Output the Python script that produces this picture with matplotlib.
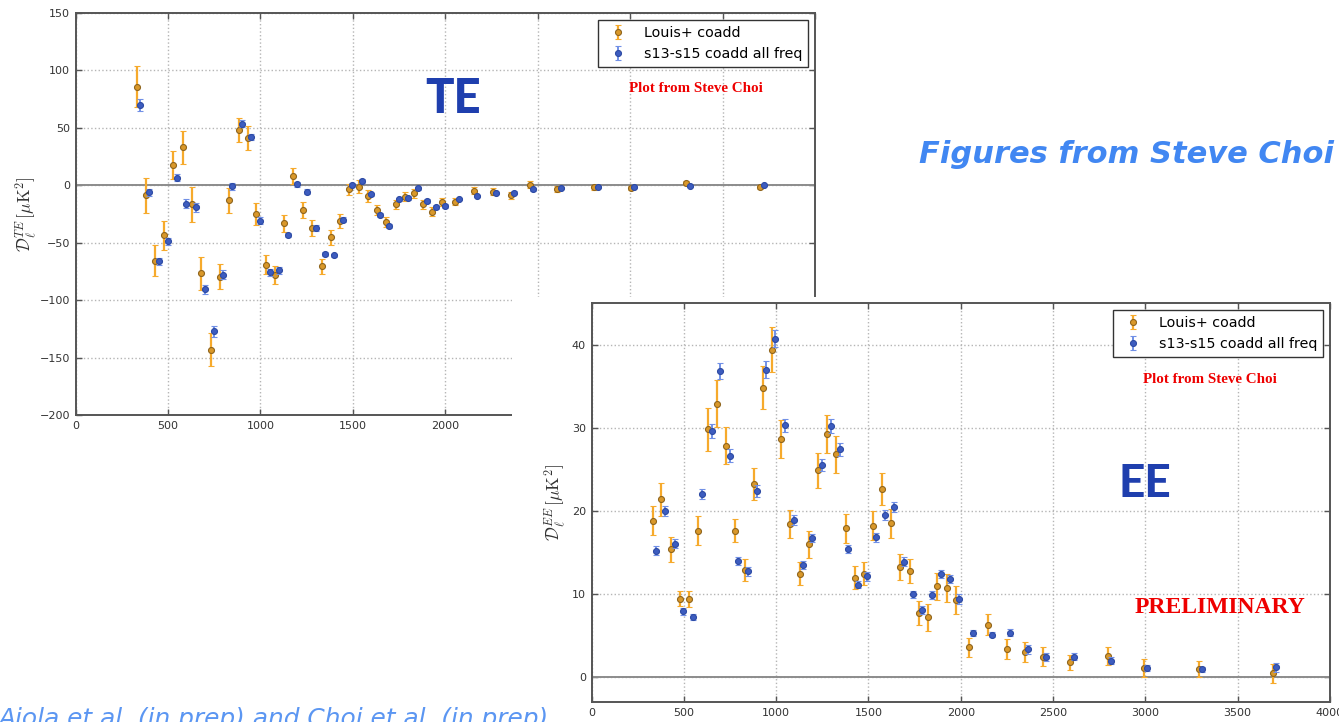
import matplotlib.pyplot as plt

plt.rcParams["mathtext.fontset"] = "cm"
plt.rcParams["font.family"] = ["DejaVu Sans"]

W, H = 1339, 722

# ---- TE bandpowers ----
te_ell_louis = [331, 379, 430, 480, 529, 579, 630, 680, 732, 781, 832, 882, 931,
                979, 1028, 1080, 1129, 1179, 1230, 1280, 1331, 1381, 1430, 1482,
                1532, 1581, 1630, 1680, 1731, 1781, 1830, 1878, 1931, 1981, 2053,
                2156, 2257, 2358, 2457, 2604, 2803, 3004, 3302, 3700]
te_louis = [86, -8.7, -65.5, -43.4, 17.5, 32.9, -16.6, -76.8, -143, -79.7, -13,
            48, 41, -25, -69, -78, -33, 7.8, -21.5, -37.5, -70.7, -45.4, -31,
            -3.5, -1.2, -9.3, -21.8, -31.7, -16.6, -9.9, -7, -16.6, -23, -14.8,
            -14.3, -4.7, -5.5, -8.7, 0.3, -3.5, -1.7, -2.3, 2, -1.5]
te_louis_err = [18, 15, 13.5, 12.7, 12, 14, 15, 14.5, 14.3, 11, 11, 10.5, 10.5,
                10, 8.4, 8, 7.5, 7, 7, 7, 6.4, 6.5, 6, 5, 5.5, 5, 4.5, 4.5, 4, 4,
                4, 4, 4, 3.5, 3, 3, 3, 3, 3, 2.5, 2, 2, 2, 2]

te_ell_s13 = [349, 399, 450, 500, 549, 599, 651, 700, 751, 796, 848, 898, 949,
              999, 1050, 1100, 1149, 1199, 1250, 1300, 1349, 1396, 1448, 1498,
              1549, 1599, 1648, 1698, 1749, 1801, 1853, 1900, 1950, 1997, 2073,
              2174, 2277, 2372, 2473, 2624, 2826, 3020, 3323, 3722]
te_s13 = [70, -6, -66, -48.6, 6.4, -16, -19, -90.7, -127, -78, -1, 53.5, 42,
          -31, -75.6, -74, -43.4, 0.9, -5.5, -37.5, -60, -61, -30, 0.3, 3.8,
          -7.9, -26, -35.5, -12.2, -11, -2.6, -13.7, -19, -18, -11.9, -9.3, -6.7,
          -6.4, -3.5, -2.6, -1.7, -1.5, -0.6, 0]
te_s13_err = [5, 3, 3, 3, 3, 4, 4, 4, 4.9, 4, 3, 3, 3, 3, 3, 3, 2, 2, 2, 2.5,
              1.5, 1.5, 2, 1.5, 1.5, 1.5, 1.5, 1.5, 1.5, 1.5, 1.5, 1.5, 1.5, 1.5,
              1.2, 1.2, 1.2, 1.2, 1.2, 1, 1, 1, 1, 1]

# ---- EE bandpowers ----
ee_ell_louis = [334, 379, 428, 478, 529, 579, 630, 680, 729, 779, 830, 880, 931,
                977, 1026, 1077, 1127, 1176, 1226, 1277, 1327, 1376, 1426, 1477,
                1527, 1572, 1623, 1673, 1723, 1772, 1822, 1873, 1923, 1974, 2046,
                2147, 2248, 2347, 2448, 2594, 2796, 2994, 3291, 3689]
ee_louis = [18.8, 21.4, 15.4, 9.45, 9.4, 17.6, 29.8, 32.9, 27.85, 17.6, 12.9,
            23.25, 34.8, 39.4, 28.6, 18.4, 12.45, 15.97, 24.85, 29.2, 26.8, 17.9,
            11.96, 12.45, 18.2, 22.6, 18.5, 13.25, 12.75, 7.7, 7.2, 10.9, 10.7,
            9.24, 3.56, 6.28, 3.36, 3.0, 2.44, 1.76, 2.52, 1.08, 1.0, 0.44]
ee_louis_err = [1.76, 2.0, 1.5, 0.96, 1.0, 1.76, 2.56, 2.8, 2.2, 1.4, 1.35, 1.9,
                2.6, 2.7, 2.3, 1.7, 1.4, 1.66, 2.1, 2.3, 2.2, 1.74, 1.4, 1.4, 1.74,
                1.96, 1.76, 1.6, 1.46, 1.42, 1.6, 1.6, 1.68, 1.7, 1.1, 1.26, 1.2,
                1.2, 1.16, 0.9, 1.04, 1.08, 0.94, 1.16]

ee_ell_s13 = [349, 399, 450, 498, 549, 599, 650, 698, 749, 796, 846, 896, 947,
              995, 1046, 1096, 1145, 1196, 1246, 1295, 1345, 1392, 1442, 1493,
              1542, 1592, 1641, 1691, 1741, 1790, 1842, 1893, 1941, 1988, 2068,
              2167, 2268, 2363, 2464, 2614, 2814, 3010, 3309, 3707]
ee_s13 = [15.2, 20.0, 16.05, 7.9, 7.25, 22.05, 29.6, 36.8, 26.65, 13.96, 12.7,
          22.4, 37.0, 40.7, 30.3, 18.9, 13.45, 16.7, 25.5, 30.2, 27.4, 15.4,
          11.1, 12.1, 16.8, 19.5, 20.5, 13.9, 9.96, 8.04, 9.9, 12.36, 11.76, 9.4,
          5.32, 5.12, 5.36, 3.32, 2.44, 2.44, 1.96, 1.08, 0.92, 1.16]
ee_s13_err = [0.56, 0.6, 0.55, 0.4, 0.35, 0.6, 0.9, 1.0, 0.8, 0.5, 0.5, 0.7, 1.0,
              1.0, 0.8, 0.6, 0.5, 0.5, 0.7, 0.8, 0.8, 0.5, 0.4, 0.5, 0.5, 0.6,
              0.6, 0.5, 0.45, 0.5, 0.45, 0.5, 0.5, 0.6, 0.4, 0.35, 0.4, 0.5, 0.5,
              0.4, 0.4, 0.4, 0.35, 0.5]

x_ticks = [0, 500, 1000, 1500, 2000, 2500, 3000, 3500, 4000]
te_yticks = [-200, -150, -100, -50, 0, 50, 100, 150]
ee_yticks = [0, 10, 20, 30, 40]

ORANGE_FACE, ORANGE_EDGE, ORANGE_BAR = "#d9982a", "#8f641c", "#f6aa2c"
BLUE_FACE, BLUE_EDGE, BLUE_BAR = "#3d5cbf", "#2d4aa3", "#7190e6"
TITLE_BLUE = "#1f3fae"


def px_axes(fig, x0, y0, x1, y1, **kw):
    """Add axes given a box in pixel coordinates (origin top-left)."""
    return fig.add_axes([x0 / W, 1 - y1 / H, (x1 - x0) / W, (y1 - y0) / H], **kw)


def ftext(fig, x, y, s, **kw):
    return fig.text(x / W, 1 - y / H, s, **kw)


def draw_spectrum(ax, louis, s13, ylim, yticks, ylabel, labelpad):
    ax.set_xlim(0, 4000)
    ax.set_ylim(*ylim)
    ax.set_xticks(x_ticks)
    ax.set_yticks(yticks)
    ax.grid(True, color="#b5b5b5", linestyle=":", linewidth=1.0)
    ax.set_axisbelow(True)
    ax.axhline(0, color="#8c8c8c", linewidth=1.4, zorder=1)

    ell, d, err = louis
    ax.errorbar(ell, d, yerr=err, fmt="o", ms=4.3, mfc=ORANGE_FACE,
                mec=ORANGE_EDGE, mew=0.8, ecolor=ORANGE_BAR, elinewidth=1.6,
                capsize=2.5, capthick=1.2, label="Louis+ coadd", zorder=3)
    ell, d, err = s13
    ax.errorbar(ell, d, yerr=err, fmt="o", ms=4.3, mfc=BLUE_FACE,
                mec=BLUE_EDGE, mew=0.8, ecolor=BLUE_BAR, elinewidth=1.4,
                capsize=2.5, capthick=1.2, label="s13-s15 coadd all freq",
                zorder=4)

    for spine in ax.spines.values():
        spine.set_color("#555555")
        spine.set_linewidth(1.4)
    ax.tick_params(direction="in", length=4, width=1, colors="#555555",
                   labelcolor="#333333", labelsize=8, top=True, right=True,
                   pad=4)
    ax.set_ylabel(ylabel, fontsize=12.5, color="#333333", labelpad=labelpad)

    leg = ax.legend(loc="upper right", fontsize=10.3, numpoints=1,
                    fancybox=False, framealpha=1, borderaxespad=0.5)
    leg.get_frame().set_edgecolor("#333333")
    leg.get_frame().set_linewidth(1.0)


fig = plt.figure(figsize=(W / 100, H / 100), dpi=100)

# TE panel
ax_te = px_axes(fig, 75.5, 13, 815, 415)
draw_spectrum(ax_te, (te_ell_louis, te_louis, te_louis_err),
              (te_ell_s13, te_s13, te_s13_err), (-200, 150), te_yticks,
              r"$\mathcal{D}_\ell^{TE}\,[\mu{\rm K}^2]$", 0.5)

# white backing for the EE panel, laid over the TE panel
cover = px_axes(fig, 512, 297, W, H)
cover.set_facecolor("white")
cover.set_xticks([])
cover.set_yticks([])
for spine in cover.spines.values():
    spine.set_visible(False)

# EE panel
ax_ee = px_axes(fig, 591.5, 303, 1330, 702)
draw_spectrum(ax_ee, (ee_ell_louis, ee_louis, ee_louis_err),
              (ee_ell_s13, ee_s13, ee_s13_err), (-3, 45), ee_yticks,
              r"$\mathcal{D}_\ell^{EE}\,[\mu{\rm K}^2]$", 3)

# annotations
ftext(fig, 453, 113, "TE", ha="center", va="baseline", fontsize=34,
      family=["Lato", "DejaVu Sans"], fontweight="black", color=TITLE_BLUE)
ftext(fig, 1144.5, 497, "EE", ha="center", va="baseline", fontsize=33,
      family=["Lato", "DejaVu Sans"], fontweight="black", color=TITLE_BLUE)
ftext(fig, 695.5, 92, "Plot from Steve Choi", ha="center", va="baseline",
      fontsize=10.8, family=["Liberation Serif"], fontweight="bold",
      color="#ee0000")
ftext(fig, 1209.5, 383, "Plot from Steve Choi", ha="center", va="baseline",
      fontsize=10.8, family=["Liberation Serif"], fontweight="bold",
      color="#ee0000")
ftext(fig, 1219.7, 613, "PRELIMINARY", ha="center", va="baseline",
      fontsize=17, family=["Liberation Serif"], fontweight="bold",
      color="#ee0000")
ftext(fig, 1334, 163, "Figures from Steve Choi", ha="right", va="baseline",
      fontsize=22, family=["DejaVu Sans"], fontweight="bold",
      style="oblique", color="#4187f2")
ftext(fig, -2, 726, "Aiola et al. (in prep) and Choi et al. (in prep)",
      ha="left", va="baseline", fontsize=17.9, family=["DejaVu Sans"],
      style="oblique", color="#5b96f2")

fig.savefig("out.png", dpi=100)
